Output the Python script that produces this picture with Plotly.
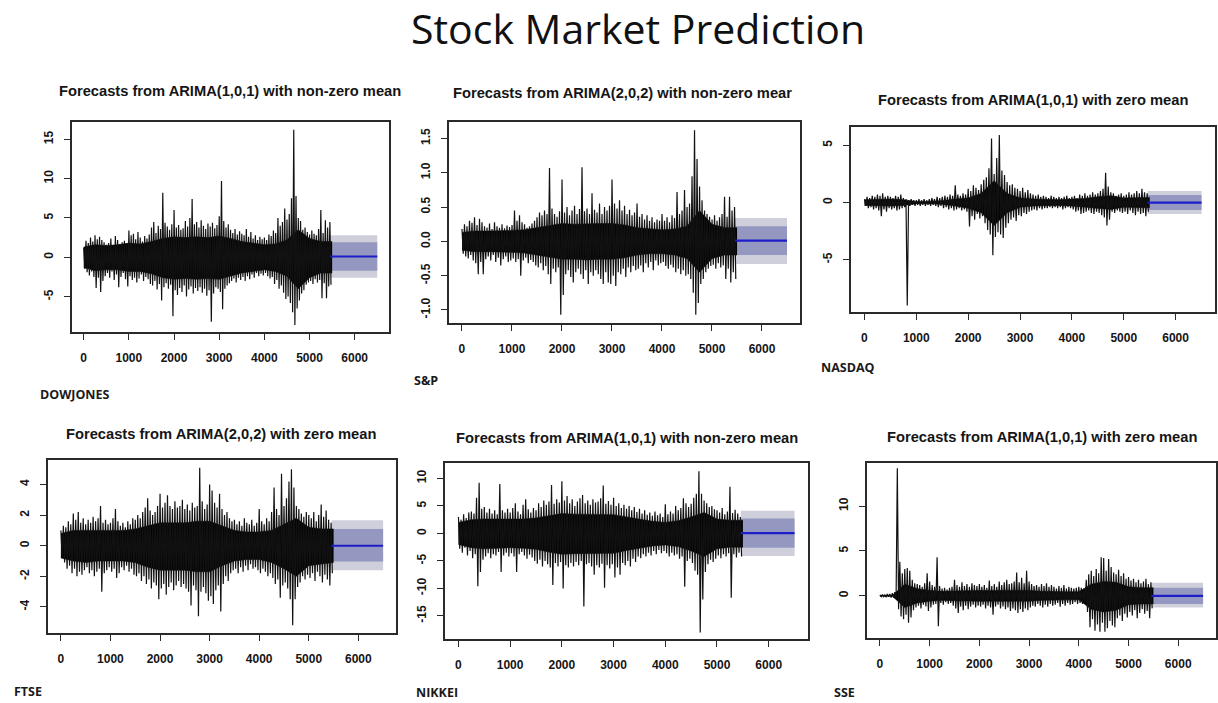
import numpy as np
import plotly.graph_objects as go

W, H = 1218, 703

# ---- daily return series, sampled every 50 observations as (high, low) pairs ----
step = 50

dow_hi = [1.2, 2.1, 1.8, 2.5, 2.0, 2.8, 2.3, 2.6, 2.2, 1.9,
          1.6, 1.8, 2.4, 1.5, 2.7, 2.2, 1.7, 1.9, 2.1, 1.6,
          3.4, 2.8, 3.0, 2.3, 3.2, 2.5, 2.0, 2.7, 2.4, 2.9,
          3.8, 4.5, 3.1, 4.0, 3.6, 8.2, 4.4, 3.9, 3.5, 4.2,
          6.0, 3.8, 4.1, 3.5, 3.7, 4.6, 3.9, 5.0, 7.4, 4.2,
          4.5, 3.8, 4.7, 4.0, 3.6, 4.3, 3.9, 4.4, 3.7, 4.1,
          5.2, 9.7, 4.6, 3.8, 4.2, 3.5, 3.1, 3.6, 2.9, 3.3,
          3.0, 2.8, 3.6, 2.6, 3.2, 2.4, 2.8, 2.2, 2.6, 2.3,
          2.5, 2.2, 2.9, 2.7, 3.4, 3.1, 5.0, 4.0, 4.5, 6.2,
          4.8, 5.5, 7.5, 16.2, 7.8, 5.0, 4.6, 3.5, 3.8, 3.2,
          2.9, 3.4, 3.0, 2.8, 3.6, 6.0, 3.1, 4.7, 3.8, 4.5]
dow_lo = [-1.5, -1.9, -2.3, -1.8, -2.5, -3.9, -2.6, -4.4, -3.0, -2.4,
          -2.0, -2.6, -1.8, -2.9, -2.2, -3.8, -2.5, -2.0, -2.8, -3.7,
          -2.4, -2.9, -2.6, -3.2, -2.7, -2.2, -3.0, -2.5, -2.8, -3.4,
          -3.6, -3.0, -4.1, -3.4, -5.5, -3.8, -3.3, -4.0, -3.5, -7.5,
          -4.2, -4.8, -3.9, -4.4, -3.6, -5.0, -4.1, -3.7, -4.6, -3.9,
          -4.3, -3.8, -4.5, -4.0, -4.9, -4.2, -8.2, -4.6, -3.8, -4.0,
          -4.4, -6.6, -4.0, -3.6, -3.3, -3.0, -2.7, -3.2, -2.6, -2.9,
          -2.5, -3.0, -2.4, -2.8, -2.2, -2.6, -2.0, -2.4, -2.1, -2.3,
          -2.0, -2.4, -2.7, -2.5, -3.4, -2.9, -4.0, -3.6, -4.5, -5.3,
          -5.0, -5.8, -7.0, -8.6, -6.5, -5.5, -4.6, -4.2, -3.5, -3.2,
          -3.0, -3.4, -2.8, -3.2, -2.9, -5.2, -3.3, -5.2, -3.7, -3.5]

sp_hi = [0.18, 0.25, 0.22, 0.30, 0.27, 0.35, 0.24, 0.33, 0.28, 0.22,
         0.20, 0.26, 0.18, 0.28, 0.22, 0.20, 0.25, 0.19, 0.23, 0.21,
         0.24, 0.45, 0.30, 0.38, 0.28, 0.25, 0.20, 0.22, 0.26, 0.30,
         0.35, 0.42, 0.38, 0.45, 0.40, 1.07, 0.48, 0.40, 0.36, 0.44,
         0.90, 0.42, 0.50, 0.38, 0.45, 0.52, 0.40, 0.47, 1.08, 0.44,
         0.48, 0.40, 0.70, 0.46, 0.42, 0.55, 0.40, 0.50, 0.45, 0.52,
         0.90, 0.55, 0.48, 0.60, 0.45, 0.52, 0.40, 0.46, 0.38, 0.42,
         0.55, 0.36, 0.40, 0.32, 0.38, 0.30, 0.35, 0.28, 0.32, 0.30,
         0.40, 0.30, 0.35, 0.28, 0.38, 0.34, 0.72, 0.40, 0.45, 0.75,
         0.50, 0.55, 0.95, 1.62, 1.20, 0.80, 0.60, 0.45, 0.40, 0.36,
         0.32, 0.38, 0.30, 0.35, 0.40, 0.65, 0.36, 0.65, 0.45, 0.50]
sp_lo = [-0.18, -0.22, -0.25, -0.20, -0.28, -0.32, -0.48, -0.30, -0.48, -0.26,
         -0.22, -0.28, -0.20, -0.30, -0.24, -0.35, -0.26, -0.22, -0.30, -0.28,
         -0.25, -0.30, -0.26, -0.50, -0.28, -0.24, -0.32, -0.27, -0.30, -0.35,
         -0.38, -0.32, -0.42, -0.36, -0.48, -0.62, -0.40, -0.45, -0.38, -1.07,
         -0.78, -0.48, -0.42, -0.52, -0.60, -0.45, -0.40, -0.48, -0.55, -0.42,
         -0.62, -0.45, -0.50, -0.42, -0.48, -0.55, -0.62, -0.45, -0.60, -0.62,
         -0.50, -0.65, -0.45, -0.48, -0.40, -0.52, -0.38, -0.45, -0.36, -0.42,
         -0.40, -0.35, -0.45, -0.32, -0.38, -0.30, -0.42, -0.28, -0.35, -0.32,
         -0.30, -0.36, -0.40, -0.34, -0.38, -0.45, -0.40, -0.48, -0.42, -0.50,
         -0.48, -0.55, -0.75, -1.07, -0.90, -0.62, -0.55, -0.45, -0.40, -0.36,
         -0.34, -0.40, -0.32, -0.38, -0.35, -0.55, -0.40, -0.60, -0.45, -0.55]

nasdaq_hi = [0.3, 0.5, 0.4, 0.6, 0.5, 0.7, 0.6, 0.8, 0.5, 0.6,
             0.5, 0.4, 0.6, 0.5, 0.7, 0.4, 0.3, 0.2, 0.3, 0.2,
             0.2, 0.3, 0.2, 0.3, 0.2, 0.3, 0.4, 0.3, 0.5, 0.4,
             0.5, 0.6, 0.5, 0.7, 0.6, 1.5, 0.7, 0.6, 0.8, 0.7,
             1.2, 1.0, 1.5, 1.3, 1.1, 1.6, 2.0, 2.2, 3.0, 5.6,
             2.5, 3.9, 5.9, 2.8, 2.4, 1.8, 1.5, 1.6, 1.3, 1.2,
             1.0, 1.3, 0.9, 1.1, 0.8, 0.7, 0.6, 0.7, 0.5, 0.6,
             0.5, 0.4, 0.6, 0.5, 0.4, 0.5, 0.4, 0.5, 0.6, 0.4,
             0.5, 0.6, 0.4, 0.7, 0.6, 0.8, 0.6, 0.7, 0.9, 0.7,
             0.8, 1.0, 1.2, 2.6, 1.4, 0.9, 0.8, 0.6, 0.7, 0.8,
             0.6, 0.7, 0.9, 0.7, 0.8, 1.0, 0.8, 1.2, 0.9, 0.8]
nasdaq_lo = [-0.3, -0.5, -0.4, -0.6, -0.5, -0.7, -1.2, -0.6, -0.8, -0.5,
             -0.6, -0.5, -0.7, -0.6, -0.5, -0.4, -9.0, -0.3, -0.2, -0.3,
             -0.2, -0.3, -0.2, -0.3, -0.2, -0.3, -0.2, -0.3, -0.4, -0.3,
             -0.5, -0.4, -0.6, -0.5, -0.7, -0.6, -0.5, -0.7, -0.6, -0.8,
             -2.1, -1.2, -1.5, -1.0, -1.4, -1.2, -1.8, -2.4, -2.8, -4.6,
             -3.0, -2.6, -2.8, -3.1, -2.2, -1.8, -1.5, -1.3, -1.6, -1.1,
             -1.2, -0.9, -1.0, -0.8, -0.7, -0.6, -0.7, -0.5, -0.6, -0.5,
             -0.5, -0.4, -0.5, -0.4, -0.5, -0.4, -0.6, -0.5, -0.4, -0.5,
             -0.6, -0.8, -0.7, -1.0, -0.9, -0.8, -0.7, -0.9, -1.0, -0.8,
             -0.9, -1.1, -1.3, -2.0, -1.5, -0.8, -0.9, -0.7, -0.8, -0.9,
             -0.8, -1.0, -0.7, -0.9, -1.1, -0.8, -1.0, -0.9, -1.2, -0.8]

ftse_hi = [1.0, 1.3, 1.2, 1.6, 1.4, 2.1, 1.7, 2.2, 1.5, 1.8,
           1.4, 1.7, 1.5, 1.9, 1.6, 1.8, 2.6, 1.5, 1.7, 1.4,
           1.5, 1.8, 2.4, 1.6, 1.3, 1.5, 1.2, 1.6, 1.4, 1.8,
           1.7, 2.0, 1.8, 2.2, 2.5, 3.1, 2.3, 2.0, 2.2, 2.6,
           3.4, 2.5, 2.8, 3.3, 2.6, 2.4, 2.9, 2.5, 2.6, 3.0,
           2.4, 2.7, 2.3, 2.8, 2.5, 2.6, 5.1, 2.9, 2.4, 2.7,
           4.0, 3.6, 2.8, 2.5, 3.4, 2.4, 2.0, 2.2, 1.8, 1.6,
           1.7, 1.4, 1.6, 1.3, 1.8, 1.5, 1.4, 1.7, 1.3, 1.5,
           2.4, 1.6, 1.4, 1.8, 1.6, 2.2, 3.8, 2.4, 2.0, 4.7,
           2.6, 3.1, 4.2, 5.0, 3.8, 2.6, 2.4, 2.1, 1.9, 2.2,
           2.0, 1.8, 2.2, 1.6, 2.0, 2.7, 1.9, 2.3, 1.7, 1.5]
ftse_lo = [-0.7, -1.1, -1.5, -1.3, -1.8, -1.5, -2.0, -1.7, -1.9, -1.6,
           -1.4, -1.8, -1.6, -2.0, -1.7, -1.5, -3.0, -1.8, -1.6, -1.4,
           -1.7, -1.5, -2.1, -1.8, -1.4, -1.6, -1.3, -1.7, -1.5, -1.9,
           -2.0, -1.8, -2.3, -2.0, -2.5, -2.2, -2.8, -2.4, -2.6, -3.5,
           -2.8, -2.5, -3.2, -2.7, -2.4, -2.9, -2.6, -2.3, -2.7, -2.5,
           -2.8, -3.0, -3.9, -2.6, -2.9, -4.6, -3.0, -2.7, -3.1, -3.6,
           -3.3, -3.8, -2.9, -2.6, -4.3, -2.5, -2.0, -2.3, -1.8, -1.6,
           -1.5, -1.8, -1.4, -1.7, -1.3, -1.6, -1.2, -1.5, -1.4, -1.6,
           -1.8, -1.5, -1.7, -2.0, -1.8, -2.1, -2.5, -2.2, -3.4, -2.6,
           -2.4, -2.8, -3.5, -5.2, -3.5, -2.7, -2.4, -2.0, -2.2, -1.9,
           -2.1, -1.8, -2.3, -1.7, -2.0, -2.4, -1.9, -2.2, -2.6, -1.8]

nikkei_hi = [3.0, 2.5, 3.5, 2.8, 3.8, 4.0, 3.6, 6.5, 9.2, 4.5,
             4.8, 3.8, 4.5, 3.6, 4.2, 3.5, 9.0, 4.2, 3.8, 4.5,
             3.8, 4.6, 5.5, 4.0, 3.5, 5.2, 6.2, 4.4, 3.8, 4.6,
             4.2, 5.5, 4.8, 6.0, 5.2, 5.8, 8.8, 5.4, 6.2, 5.6,
             9.5, 6.0, 6.8, 5.5, 6.2, 5.0, 5.8, 6.4, 7.0, 5.5,
             6.0, 5.2, 6.2, 5.6, 5.8, 6.4, 8.7, 5.4, 5.9, 5.2,
             6.5, 5.0, 5.5, 4.6, 5.2, 4.5, 5.0, 4.2, 4.8, 3.9,
             4.5, 3.6, 4.2, 3.4, 3.8, 3.2, 4.0, 3.3, 3.6, 3.0,
             5.3, 3.5, 4.0, 3.6, 5.0, 4.2, 4.6, 6.4, 5.5, 4.8,
             5.4, 6.5, 7.2, 11.3, 7.2, 6.0, 5.5, 4.8, 5.0, 4.4,
             4.2, 3.8, 4.6, 3.5, 4.0, 8.5, 3.7, 4.3, 3.6, 3.0]
nikkei_lo = [-2.8, -3.5, -2.6, -4.0, -3.2, -4.5, -3.8, -9.6, -7.0, -4.8,
             -4.2, -3.6, -4.5, -3.8, -4.0, -3.4, -7.0, -4.0, -3.5, -4.2,
             -3.6, -4.2, -7.0, -3.8, -3.4, -4.0, -4.6, -3.9, -4.4, -5.0,
             -5.5, -4.8, -6.0, -5.0, -5.6, -6.2, -9.4, -5.4, -6.0, -5.2,
             -10.0, -5.8, -6.2, -5.4, -6.0, -5.2, -5.8, -5.0, -13.3, -5.6,
             -5.4, -6.0, -7.5, -5.8, -6.2, -5.5, -9.9, -5.8, -6.4, -5.6,
             -8.0, -6.2, -7.5, -5.4, -5.8, -5.0, -6.0, -4.6, -5.2, -4.2,
             -4.5, -3.8, -4.2, -3.5, -4.0, -3.2, -3.8, -3.0, -3.6, -3.2,
             -3.6, -4.2, -3.5, -4.0, -3.8, -4.6, -4.2, -9.7, -5.0, -4.6,
             -5.4, -6.8, -7.5, -18.0, -12.0, -7.0, -5.6, -4.8, -5.2, -4.6,
             -4.0, -4.5, -3.8, -4.2, -3.6, -11.7, -3.8, -4.4, -3.5, -4.2]

sse_hi = [0.1, 0.15, 0.1, 0.2, 0.2, 0.3, 0.4, 14.2, 3.8, 2.5,
          3.0, 3.1, 2.8, 1.8, 1.4, 1.3, 1.2, 1.0, 1.4, 2.5,
          1.6, 1.2, 1.0, 4.3, 1.1, 0.8, 0.9, 0.7, 0.9, 1.0,
          1.8, 1.2, 1.0, 1.5, 1.1, 1.3, 1.0, 1.4, 1.2, 1.1,
          1.3, 1.0, 1.2, 0.9, 1.7, 1.1, 1.3, 1.0, 1.6, 1.2,
          1.5, 1.8, 1.3, 1.4, 1.6, 2.6, 1.5, 2.0, 1.4, 2.8,
          1.6, 1.3, 1.1, 1.2, 1.0, 1.3, 1.1, 1.4, 1.0, 1.2,
          1.0, 0.8, 1.1, 0.9, 1.2, 0.8, 1.0, 0.9, 0.8, 0.9,
          1.0, 0.9, 0.8, 1.8, 2.4, 2.8, 2.2, 3.0, 2.5, 4.3,
          4.2, 2.8, 4.1, 3.2, 2.6, 2.4, 2.9, 2.2, 2.5, 1.9,
          2.1, 1.7, 1.9, 1.5, 1.8, 1.4, 1.6, 1.9, 1.3, 1.5]
sse_lo = [-0.1, -0.1, -0.15, -0.1, -0.2, -0.2, -0.3, -1.5, -2.3, -2.6,
          -2.1, -3.0, -2.4, -1.6, -1.3, -1.1, -1.4, -1.0, -1.2, -1.7,
          -1.3, -1.0, -0.9, -3.4, -0.8, -1.0, -0.7, -0.9, -0.8, -1.1,
          -1.4, -1.9, -1.2, -1.6, -1.1, -1.5, -1.2, -1.0, -1.3, -1.1,
          -1.2, -1.0, -1.4, -1.1, -1.3, -2.1, -1.2, -1.0, -1.4, -1.2,
          -1.5, -1.3, -1.7, -1.4, -1.6, -1.9, -1.5, -1.8, -1.4, -1.6,
          -1.3, -1.1, -1.2, -0.9, -1.1, -1.3, -1.0, -1.2, -0.9, -1.1,
          -1.0, -0.8, -1.2, -0.9, -1.1, -0.8, -1.0, -0.9, -0.7, -0.9,
          -0.8, -0.9, -0.7, -1.8, -3.5, -2.6, -3.9, -3.2, -4.0, -3.0,
          -4.0, -3.6, -2.8, -3.3, -3.5, -2.5, -2.2, -2.8, -2.0, -2.4,
          -1.8, -2.2, -1.6, -2.5, -1.9, -1.5, -2.0, -1.7, -2.5, -1.4]

# ---- dense body of each series (bulk of observations), every 250 observations ----
core_step = 250
dow_core_hi = [1.3, 1.6, 1.5, 1.6, 1.8, 1.7, 2.0, 2.4, 2.6, 2.5, 2.6, 2.5,
               2.7, 2.4, 2.0, 1.8, 1.6, 1.7, 2.2, 3.5, 2.4, 2.0, 2.0]
dow_core_lo = [-1.3, -1.7, -1.6, -1.6, -1.8, -1.8, -2.1, -2.6, -2.8, -2.7, -2.8, -2.7,
               -2.8, -2.4, -2.0, -1.8, -1.6, -1.8, -2.4, -4.0, -2.6, -2.0, -2.0]
sp_core_hi = [0.13, 0.15, 0.15, 0.15, 0.16, 0.17, 0.20, 0.24, 0.26, 0.25, 0.26, 0.26,
              0.26, 0.24, 0.20, 0.18, 0.17, 0.18, 0.22, 0.45, 0.25, 0.20, 0.20]
sp_core_lo = [-0.13, -0.15, -0.15, -0.15, -0.16, -0.17, -0.20, -0.24, -0.26, -0.26, -0.27, -0.26,
              -0.26, -0.24, -0.20, -0.18, -0.18, -0.20, -0.25, -0.45, -0.25, -0.20, -0.20]
nasdaq_core_hi = [0.25, 0.3, 0.3, 0.25, 0.1, 0.1, 0.15, 0.3, 0.4, 0.8, 1.9, 0.8,
                  0.4, 0.3, 0.25, 0.25, 0.3, 0.35, 0.5, 0.6, 0.4, 0.4, 0.45]
nasdaq_core_lo = [-0.25, -0.3, -0.3, -0.25, -0.1, -0.1, -0.15, -0.3, -0.5, -0.9, -2.0, -0.9,
                  -0.4, -0.3, -0.25, -0.25, -0.3, -0.4, -0.5, -0.6, -0.4, -0.4, -0.45]
ftse_core_hi = [0.8, 1.0, 1.0, 1.0, 1.0, 1.0, 1.1, 1.3, 1.5, 1.5, 1.5, 1.6,
                1.6, 1.3, 1.0, 0.9, 0.9, 1.0, 1.4, 1.8, 1.2, 1.1, 1.1]
ftse_core_lo = [-0.8, -1.0, -1.1, -1.0, -1.0, -1.0, -1.1, -1.4, -1.6, -1.6, -1.6, -1.7,
                -1.7, -1.3, -1.0, -0.9, -0.9, -1.1, -1.5, -2.0, -1.3, -1.2, -1.1]
nikkei_core_hi = [2.0, 2.5, 2.6, 2.6, 2.5, 2.6, 2.8, 3.2, 3.6, 3.5, 3.5, 3.5,
                  3.4, 3.0, 2.6, 2.2, 2.0, 2.3, 3.0, 3.8, 2.6, 2.4, 2.4]
nikkei_core_lo = [-2.0, -2.6, -2.8, -2.7, -2.6, -2.7, -2.9, -3.4, -3.8, -3.7, -3.7, -3.7,
                  -3.6, -3.1, -2.7, -2.3, -2.1, -2.4, -3.2, -4.2, -2.8, -2.5, -2.5]
sse_core_hi = [0.05, 0.05, 1.3, 0.8, 0.6, 0.5, 0.55, 0.6, 0.6, 0.6, 0.6, 0.65,
               0.6, 0.5, 0.45, 0.45, 0.45, 1.3, 1.6, 1.5, 1.0, 0.9, 0.9]
sse_core_lo = [-0.05, -0.05, -1.3, -0.8, -0.6, -0.5, -0.55, -0.6, -0.6, -0.6, -0.6, -0.65,
               -0.6, -0.5, -0.45, -0.45, -0.45, -1.5, -1.8, -1.6, -1.0, -0.9, -0.9]

# ---- forecast horizon and intervals: (mean, lo80, hi80, lo95, hi95) ----
fc_start, fc_end = 5461, 6500
dow_fc = (0.1, -1.7, 1.9, -2.6, 2.8)
sp_fc = (0.01, -0.20, 0.22, -0.33, 0.34)
nasdaq_fc = (0.0, -0.65, 0.65, -1.0, 1.0)
ftse_fc = (0.0, -1.03, 1.1, -1.6, 1.67)
nikkei_fc = (0.05, -2.6, 2.7, -4.1, 4.1)
sse_fc = (0.0, -0.9, 0.9, -1.3, 1.45)

x_ticks = [0, 1000, 2000, 3000, 4000, 5000, 6000]

panels = [
    # name, title, series hi/lo, body hi/lo, forecast, box (left, right, top, bottom px),
    # y range, y ticks, tick fmt, title centre, name position
    ("DOWJONES", "Forecasts from ARIMA(1,0,1) with non-zero mean", dow_hi, dow_lo,
     dow_core_hi, dow_core_lo, dow_fc,
     (72, 389, 122, 332), (-9.5, 17.2), [-5, 0, 5, 10, 15], "d", (230, 91), (38, 395)),
    ("S&P", "Forecasts from ARIMA(2,0,2) with non-zero mear", sp_hi, sp_lo,
     sp_core_hi, sp_core_lo, sp_fc,
     (449, 800, 122, 323), (-1.19, 1.74), [-1.0, -0.5, 0.0, 0.5, 1.0, 1.5], ".1f", (622, 93), (412, 380)),
    ("NASDAQ", "Forecasts from ARIMA(1,0,1) with zero mean", nasdaq_hi, nasdaq_lo,
     nasdaq_core_hi, nasdaq_core_lo, nasdaq_fc,
     (851, 1215, 127, 312), (-9.56, 6.6), [-5, 0, 5], "d", (1033, 100), (819, 368)),
    ("FTSE", "Forecasts from ARIMA(2,0,2) with zero mean", ftse_hi, ftse_lo,
     ftse_core_hi, ftse_core_lo, ftse_fc,
     (48, 396, 460, 633), (-5.7, 5.6), [-4, -2, 0, 2, 4], "d", (221, 434), (12, 691)),
    ("NIKKEI", "Forecasts from ARIMA(1,0,1) with non-zero mean", nikkei_hi, nikkei_lo,
     nikkei_core_hi, nikkei_core_lo, nikkei_fc,
     (445, 808, 463, 639), (-19.2, 12.8), [-15, -10, -5, 0, 5, 10], "d", (627, 438), (414, 692)),
    ("SSE", "Forecasts from ARIMA(1,0,1) with zero mean", sse_hi, sse_lo,
     sse_core_hi, sse_core_lo, sse_fc,
     (867, 1216, 463, 638), (-4.7, 14.8), [0, 5, 10], "d", (1042, 437), (832, 692)),
]

fig = go.Figure()
annotations = []
TICK_FONT = dict(family="Liberation Sans, Arial, sans-serif", size=12, color="#151515", weight="bold")

for k, (name, title, hi, lo, chi, clo, fc, box, yr, yt, fmt, tpos, lpos) in enumerate(panels, start=1):
    xa = "x" if k == 1 else f"x{k}"
    ya = "y" if k == 1 else f"y{k}"
    L, R, T, B = box
    last_obs = len(hi) * step + 10

    # interleave highs and lows into one dense series
    t = np.arange(len(hi)) * step + 1
    xs = np.empty(2 * len(hi))
    ys = np.empty(2 * len(hi))
    xs[0::2], xs[1::2] = t, t + step / 2
    ys[0::2], ys[1::2] = hi, lo

    tc = np.minimum(np.arange(len(chi)) * core_step + 1, last_obs)

    mean, lo80, hi80, lo95, hi95 = fc
    fx = [fc_start, fc_end, fc_end, fc_start]
    fig.add_trace(go.Scatter(x=fx, y=[lo95, lo95, hi95, hi95], fill="toself", mode="none",
                             fillcolor="#CFCFDC", xaxis=xa, yaxis=ya, showlegend=False))
    fig.add_trace(go.Scatter(x=fx, y=[lo80, lo80, hi80, hi80], fill="toself", mode="none",
                             fillcolor="#9498C0", xaxis=xa, yaxis=ya, showlegend=False))
    # solid body
    fig.add_trace(go.Scatter(x=tc, y=chi, mode="lines", line=dict(color="black", width=0.5),
                             xaxis=xa, yaxis=ya, showlegend=False))
    fig.add_trace(go.Scatter(x=tc, y=clo, mode="lines", line=dict(color="black", width=0.5),
                             fill="tonexty", fillcolor="black",
                             xaxis=xa, yaxis=ya, showlegend=False))
    # individual swings
    fig.add_trace(go.Scatter(x=xs, y=ys, mode="lines", line=dict(color="#111", width=1.2),
                             xaxis=xa, yaxis=ya, showlegend=False))
    fig.add_trace(go.Scatter(x=[fc_start, fc_end], y=[mean, mean], mode="lines",
                             line=dict(color="#1C1CC8", width=2.2),
                             xaxis=xa, yaxis=ya, showlegend=False))

    axis_common = dict(showline=True, mirror=True, linecolor="#2a2a2a", linewidth=1.8,
                       ticks="outside", ticklen=6, tickwidth=1.4, tickcolor="#2a2a2a",
                       showgrid=False, zeroline=False, tickfont=TICK_FONT)
    fig.layout[f"xaxis{'' if k == 1 else k}"] = dict(
        domain=[L / W, R / W], range=[-259, 6760], anchor=ya,
        tickvals=x_ticks, ticktext=[str(v) for v in x_ticks],
        ticklabelstandoff=8, **axis_common)
    fig.layout[f"yaxis{'' if k == 1 else k}"] = dict(
        domain=[1 - B / H, 1 - T / H], range=list(yr), anchor=xa,
        tickvals=yt, ticktext=[format(v, fmt) if fmt != "d" else str(int(v)) for v in yt],
        tickangle=-90, ticklabelstandoff=6, **axis_common)

    annotations.append(dict(text=f"<b>{title}</b>", x=tpos[0] / W, y=1 - tpos[1] / H,
                            xref="paper", yref="paper", xanchor="center", yanchor="middle",
                            showarrow=False,
                            font=dict(family="Liberation Sans, Arial, sans-serif", size=14.7, color="#151515")))
    annotations.append(dict(text=f"<b>{name}</b>", x=lpos[0] / W, y=1 - lpos[1] / H,
                            xref="paper", yref="paper", xanchor="left", yanchor="middle",
                            showarrow=False,
                            font=dict(family="Open Sans, sans-serif", size=12.5, color="#1a1a1a")))

annotations.append(dict(text="Stock Market Prediction", x=638 / W, y=1 - 28 / H,
                        xref="paper", yref="paper", xanchor="center", yanchor="middle",
                        showarrow=False,
                        font=dict(family="Open Sans, sans-serif", size=41, color="#111")))

fig.update_layout(width=W, height=H, margin=dict(l=0, r=0, t=0, b=0),
                  paper_bgcolor="white", plot_bgcolor="white", annotations=annotations)

fig.write_html("out.html")
